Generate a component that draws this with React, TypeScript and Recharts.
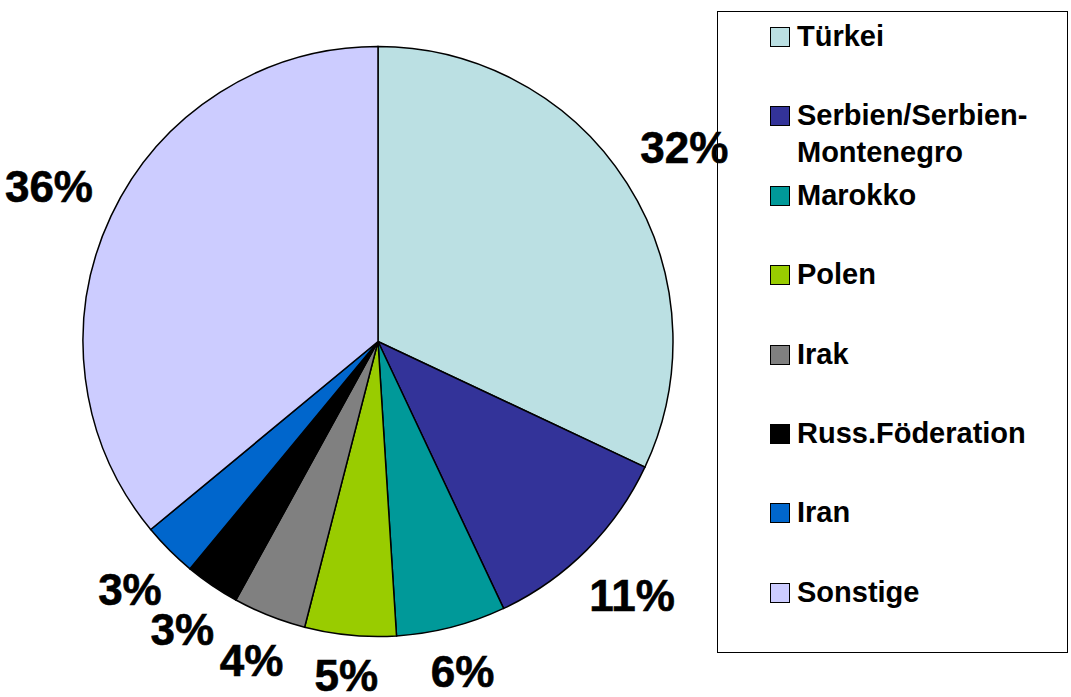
import React from "react";
import { PieChart, Pie, Cell, Legend } from "recharts";

const categories = [
  "Türkei",
  "Serbien/Serbien-Montenegro",
  "Marokko",
  "Polen",
  "Irak",
  "Russ.Föderation",
  "Iran",
  "Sonstige",
];
const legendLines = [
  ["Türkei"],
  ["Serbien/Serbien-", "Montenegro"],
  ["Marokko"],
  ["Polen"],
  ["Irak"],
  ["Russ.Föderation"],
  ["Iran"],
  ["Sonstige"],
];
const values = [32, 11, 6, 5, 4, 3, 3, 36];
const colors = [
  "#BBE0E3",
  "#333399",
  "#009999",
  "#99CC00",
  "#808080",
  "#000000",
  "#0066CC",
  "#CCCCFF",
];

const data = categories.map((name, i) => ({ name, value: values[i] }));

const FONT = "'Liberation Sans', Arial, sans-serif";
const RAD = Math.PI / 180;

const renderLabel = (props: any) => {
  const { cx, cy, midAngle, outerRadius, percent } = props;
  const text = `${Math.round(percent * 100)}%`;
  const fs = 44;
  const w = (text.length - 1) * 0.556 * fs + 0.889 * fs;
  const h = 32;
  const c = Math.cos(-midAngle * RAD);
  const s = Math.sin(-midAngle * RAD);
  const r = outerRadius + 22 + (w / 2) * Math.abs(c) + (h / 2) * Math.abs(s);
  const x = cx + r * c;
  const y = cy + r * s;
  return (
    <text
      x={x}
      y={y}
      textAnchor="middle"
      dominantBaseline="central"
      fontFamily={FONT}
      fontWeight="bold"
      fontSize={fs}
      fill="#000"
      stroke="#000"
      strokeWidth={0.6}
    >
      {text}
    </text>
  );
};

const LegendContent = () => (
  <div
    style={{
      position: "absolute",
      left: 717,
      top: 11,
      width: 351,
      height: 642,
      border: "1.5px solid #000",
      boxSizing: "border-box",
      fontFamily: FONT,
      fontWeight: "bold",
      fontSize: 29,
      color: "#000",
    }}
  >
    {categories.map((c, i) => (
      <div
        key={c}
        style={{
          position: "absolute",
          left: 52,
          top: 26 + i * 79.4 - 20,
          display: "flex",
          alignItems: "flex-start",
        }}
      >
        <div
          style={{
            width: 20,
            height: 20,
            marginTop: 9,
            background: colors[i],
            border: "1.5px solid #000",
            boxSizing: "border-box",
            marginRight: 7,
            flexShrink: 0,
          }}
        />
        <div style={{ lineHeight: "37px", whiteSpace: "nowrap" }}>
          {legendLines[i].map((l) => (
            <div key={l}>{l}</div>
          ))}
        </div>
      </div>
    ))}
  </div>
);

export default function App() {
  return (
    <div style={{ position: "absolute", left: 0, top: 0, width: 1071, height: 697, background: "#fff" }}>
      <PieChart width={1071} height={697} margin={{ top: 0, right: 0, bottom: 0, left: 0 }}>
        <Pie
          data={data}
          dataKey="value"
          nameKey="name"
          cx={378}
          cy={341.5}
          outerRadius={295}
          startAngle={90}
          endAngle={-270}
          stroke="#000"
          strokeWidth={1.5}
          label={renderLabel}
          labelLine={false}
          isAnimationActive={false}
        >
          {data.map((d, i) => (
            <Cell key={d.name} fill={colors[i]} />
          ))}
        </Pie>
        <Legend
          content={() => <LegendContent />}
          wrapperStyle={{ position: "absolute", left: 0, top: 0, width: 0, height: 0 }}
        />
      </PieChart>
    </div>
  );
}
